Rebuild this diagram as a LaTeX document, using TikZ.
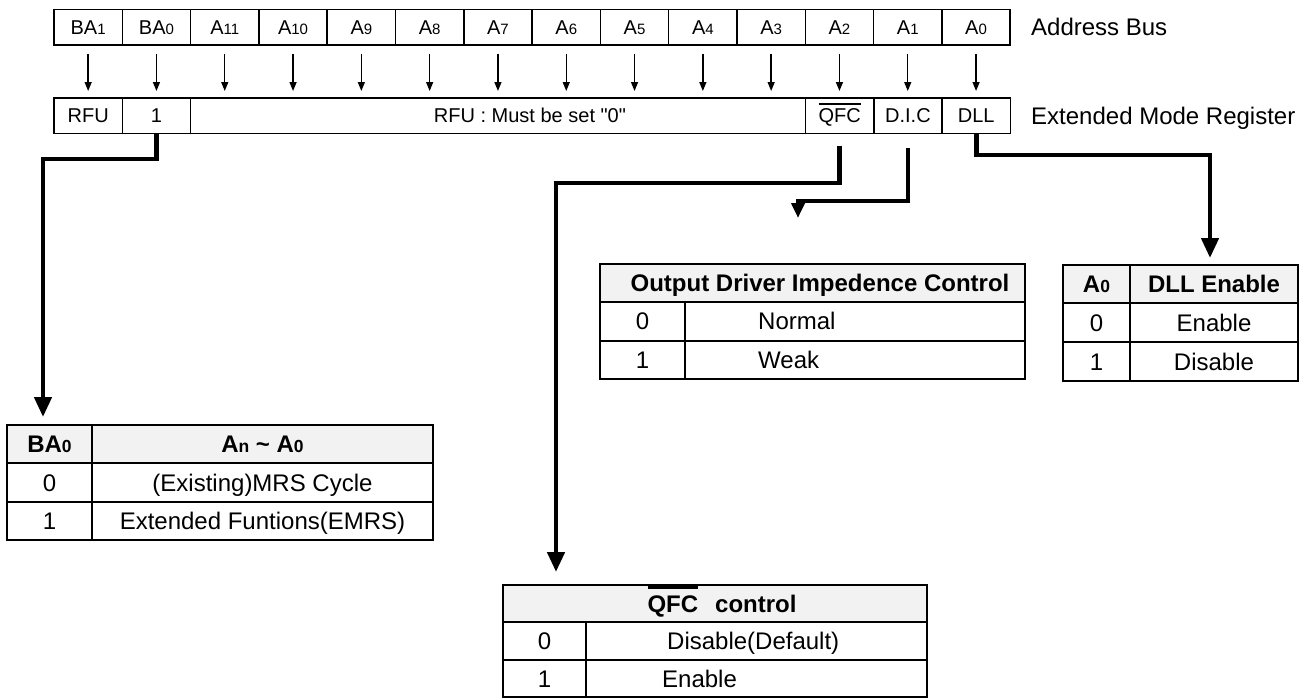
\documentclass[tikz,border=0pt]{standalone}
\usepackage{fontspec}
\setmainfont{Liberation Sans}[Ligatures=TeXOff]
\usetikzlibrary{arrows.meta,calc}
\definecolor{hdr}{RGB}{242,242,242}
\newcommand\sbs[1]{{\fontsize{15}{16}\selectfont #1}}
\newcommand\sbt[1]{{\fontsize{17.5}{18}\selectfont #1}}
\newcommand\ovl[3]{\setbox0\hbox{#1}\rlap{\raisebox{#2}{\rule{\wd0}{#3}}}\box0}
\begin{document}
\begin{tikzpicture}[x=1pt,y=-1pt,
  cell/.style={draw, line width=1.5pt, minimum height=35.5pt, inner sep=0pt,
    text height=14.3pt, text depth=0pt, font=\fontsize{20}{23}\selectfont},
  busarrow/.style={line width=1.4pt, -{Triangle[width=7pt,length=9pt]}},
  bigarrow/.style={line width=4.5pt, -{Triangle[width=17pt,length=20pt]}},
  smallarrow/.style={line width=4.2pt, -{Triangle[width=13pt,length=15pt]}},
  tline/.style={line width=2pt},
  ttext/.style={inner sep=0pt, text height=17.2pt, text depth=0pt, font=\fontsize{24}{28}\selectfont},
  thead/.style={ttext, font=\fontsize{24}{28}\selectfont\bfseries},
  side/.style={inner sep=0pt, anchor=west, text height=17.2pt, text depth=0pt, font=\fontsize{24}{28}\selectfont}]
\useasboundingbox (0,0) rectangle (1309,699);

% address bus
\foreach \lab [count=\i from 0] in {BA\sbs{1},BA\sbs{0},A\sbs{11},A\sbs{10},A\sbs{9},A\sbs{8},A\sbs{7},A\sbs{6},A\sbs{5},A\sbs{4},A\sbs{3},A\sbs{2},A\sbs{1},A\sbs{0}}
  \node[cell, minimum width=68.3pt] (a\i) at ({54+68.3*(\i+0.5)},27) {\lab};
\node[side] (lbus) at (1031,27) {Address Bus};

% extended mode register
\node[cell, minimum width=68.3pt] (r0) at (88.15,115.5) {RFU};
\node[cell, minimum width=68.3pt] (r1) at (156.45,115.5) {1};
\node[cell, minimum width=614.7pt] (rm) at (497.95,115.5) {\hspace*{64pt}RFU : Must be set "0"};
\node[cell, minimum width=68.3pt] (r11) at (839.65,115.5) {\ovl{QFC}{18pt}{1.4pt}};
\node[cell, minimum width=68.3pt] (r12) at (907.95,115.5) {D.I.C};
\node[cell, minimum width=68.3pt] (r13) at (976.25,115.5) {DLL};
\node[side] (lreg) at (1031,115.5) {Extended Mode Register};

\foreach \i in {0,...,13}
  \draw[busarrow] ($(a\i.south)+(0,8)$) -- ($(a\i.south |- r0.north)+(0,-6)$);

% connectors
\coordinate (k1) at (43,159);   \coordinate (t1) at (43,417);
\coordinate (k2) at (556,183);  \coordinate (t2) at (556,572);
\coordinate (k3) at (798,201);  \coordinate (t3) at (798,218);
\coordinate (k4) at (1210,155); \coordinate (t4) at (1210,258);
\draw[bigarrow] (r1.south) |- (k1) -- (t1);
\draw[bigarrow] ([yshift=-12pt]r11.south) |- (k2) -- (t2);
\draw[smallarrow] ([yshift=-14pt]r12.south) |- (k3) -- (t3);
\draw[bigarrow] (r13.south) |- (k4) -- (t4);

% BA0 table
\fill[hdr] (7,425) rectangle (433,463);
\draw[tline] (7,425) rectangle (433,540);
\draw[tline] (7,463) -- (433,463) (7,501.5) -- (433,501.5) (92,425) -- (92,540);
\node[thead] (b00) at (49.5,444) {BA\sbt{0}};
\node[thead] (b01) at (262.5,444) {A\sbt{n} \textasciitilde{} A\sbt{0}};
\node[ttext] (b10) at (49.5,482.5) {0};
\node[ttext] (b11) at (262.5,482.5) {(Existing)MRS Cycle};
\node[ttext] (b20) at (49.5,521) {1};
\node[ttext] (b21) at (262.5,521) {Extended Funtions(EMRS)};

% Output driver table
\fill[hdr] (600,264) rectangle (1025,302);
\draw[tline] (600,264) rectangle (1025,379);
\draw[tline] (600,302) -- (1025,302) (600,340.5) -- (1025,340.5) (685,302) -- (685,379);
\node[thead] (o0) at (820,283) {Output Driver Impedence Control};
\node[ttext] (o10) at (642.5,321) {0};
\node[ttext, anchor=west] (o11) at (758,321) {Normal};
\node[ttext] (o20) at (642.5,360) {1};
\node[ttext, anchor=west] (o21) at (758,360) {Weak};

% DLL table
\fill[hdr] (1063,265) rectangle (1298,303);
\draw[tline] (1063,265) rectangle (1298,381);
\draw[tline] (1063,303) -- (1298,303) (1063,342) -- (1298,342) (1130,265) -- (1130,381);
\node[thead] (d00) at (1096.5,284) {A\sbt{0}};
\node[thead] (d01) at (1214,284) {DLL Enable};
\node[ttext] (d10) at (1096.5,322.5) {0};
\node[ttext] (d11) at (1214,322.5) {Enable};
\node[ttext] (d20) at (1096.5,361.5) {1};
\node[ttext] (d21) at (1214,361.5) {Disable};

% QFC table
\fill[hdr] (503,585) rectangle (927,622);
\draw[tline] (503,585) rectangle (927,697);
\draw[tline] (503,622) -- (927,622) (503,660) -- (927,660) (586,622) -- (586,697);
\node[thead] (q0) at (722,603.5) {\ovl{QFC}{23.5pt}{3pt}\hspace{17pt}control};
\node[ttext] (q10) at (544.5,641) {0};
\node[ttext, anchor=west] (q11) at (667,641) {Disable(Default)};
\node[ttext] (q20) at (544.5,678.5) {1};
\node[ttext, anchor=west] (q21) at (662,678.5) {Enable};
\end{tikzpicture}
\end{document}
